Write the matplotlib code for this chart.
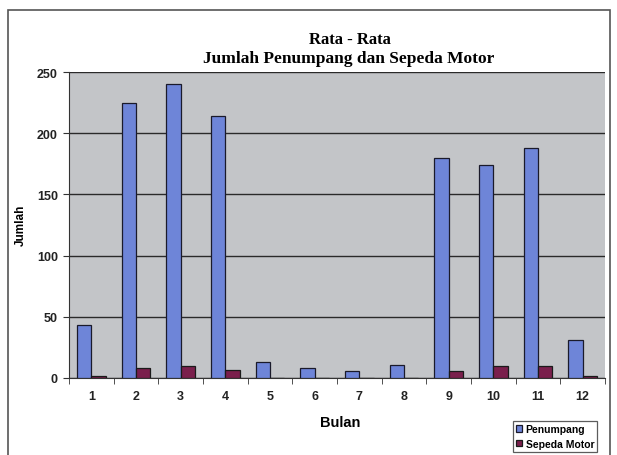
import matplotlib
matplotlib.use("Agg")
import matplotlib.pyplot as plt
from matplotlib.patches import Rectangle
import numpy as np

# Monthly averages
months = ["1", "2", "3", "4", "5", "6", "7", "8", "9", "10", "11", "12"]
penumpang = [43, 225, 240, 214, 13, 8, 6, 11, 180, 174, 188, 31]
sepeda_motor = [2, 8, 9.5, 6.5, 0, 0, 0, 0, 6, 9.5, 9.5, 1.5]
y_ticks = [0, 50, 100, 150, 200, 250]

W, H = 617, 456
fig = plt.figure(figsize=(W / 100, H / 100), dpi=100)
fig.patch.set_facecolor("white")

# Outer chart frame
fig.patches.append(Rectangle((8 / W, -0.05), (610 - 8) / W, 1.05 - 11 / H,
                             transform=fig.transFigure, fill=False,
                             edgecolor="#555555", linewidth=1.2))

ax = fig.add_axes([69 / W, 1 - 379 / H, (605 - 69) / W, (379 - 73) / H])
ax.set_facecolor("#c3c5c8")

x = np.arange(len(months))
w = 0.32
ax.bar(x - w / 2, penumpang, width=w, color="#6e85d8", edgecolor="#1a1a2a",
       linewidth=0.9, label="Penumpang", zorder=3)
ax.bar(x + w / 2, sepeda_motor, width=w, color="#7a1f4c", edgecolor="#1a1a1a",
       linewidth=0.9, label="Sepeda Motor", zorder=3)

ax.set_xlim(-0.5, len(months) - 0.5)
ax.set_ylim(0, 250)
ax.set_yticks(y_ticks)
ax.yaxis.grid(True, color="#2a2a2a", linewidth=1.0, zorder=1)
ax.set_axisbelow(True)

ax.set_xticks(x)
ax.set_xticklabels(months)
ax.set_xticks(np.arange(-0.5, len(months), 1.0), minor=True)
ax.tick_params(axis="x", which="major", length=0, pad=9)
ax.tick_params(axis="x", which="minor", length=4, direction="out", color="#333333")
ax.tick_params(axis="y", length=4, direction="out", color="#333333", pad=4)

for lbl in ax.get_xticklabels() + ax.get_yticklabels():
    lbl.set_fontfamily("Liberation Sans")
    lbl.set_fontweight("bold")
    lbl.set_fontsize(9)
    lbl.set_color("#222222")

for side in ["top", "right"]:
    ax.spines[side].set_visible(False)
ax.spines["left"].set_color("#333333")
ax.spines["bottom"].set_color("#333333")

fig.text(350 / W, 1 - 40 / H, "Rata - Rata", ha="center", va="center",
         fontfamily="Liberation Serif", fontweight="bold", fontsize=12)
fig.text(349 / W, 1 - 59 / H, "Jumlah Penumpang dan Sepeda Motor", ha="center",
         va="center", fontfamily="Liberation Serif", fontweight="bold", fontsize=12.5)

fig.text(340 / W, 1 - 423 / H, "Bulan", ha="center", va="center",
         fontfamily="Liberation Sans", fontweight="bold", fontsize=10.5)
fig.text(21 / W, 1 - 225 / H, "Jumlah", ha="center", va="center", rotation=90,
         fontfamily="Liberation Sans", fontweight="bold", fontsize=8.5)

leg = fig.legend(loc="upper left", bbox_to_anchor=(513 / W, 1 - 422 / H),
                 frameon=True, fancybox=False, edgecolor="#333333",
                 prop={"family": "Liberation Sans", "weight": "bold", "size": 7.5},
                 handlelength=0.6, handleheight=0.6, handletextpad=0.3,
                 borderpad=0.3, labelspacing=0.45, borderaxespad=0)
leg.get_frame().set_linewidth(0.9)

fig.savefig("out.png", dpi=100)
